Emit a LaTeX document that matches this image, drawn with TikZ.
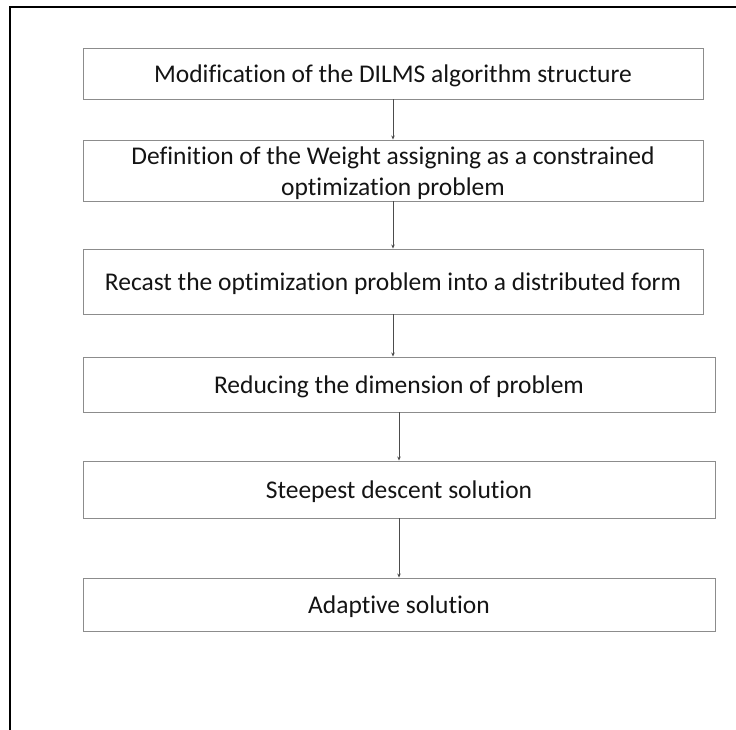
\documentclass[tikz,border=0pt]{standalone}
\usepackage{fontspec}
\setmainfont{Carlito}[Ligatures=NoCommon]
\usetikzlibrary{arrows.meta}
\definecolor{boxgray}{gray}{0.55}
\definecolor{txtgray}{gray}{0.08}
\definecolor{arrgray}{gray}{0.3}
\begin{document}
\begin{tikzpicture}[x=1pt,y=-1pt,
  flowbox/.style={draw=boxgray, line width=0.9pt, rectangle, inner sep=0pt},
  flowtext/.style={anchor=base, inner sep=0pt, text=txtgray,
    font=\fontsize{25.5}{31}\selectfont, align=center},
  flowarrow/.style={draw=arrgray, line width=0.7pt, -{Stealth[length=4pt,width=3.5pt]}}]
\useasboundingbox (0,0) rectangle (736,730);
\draw[line width=2pt, black] (10,730) -- (10,7) -- (736,7);
\node[flowbox, minimum width=620pt, minimum height=51pt] (b1) at (393,73.5) {};
\node[flowbox, minimum width=620pt, minimum height=61pt] (b2) at (393,170.5) {};
\node[flowbox, minimum width=620pt, minimum height=65pt] (b3) at (393,281.5) {};
\node[flowbox, minimum width=632pt, minimum height=55pt] (b4) at (399,384.5) {};
\node[flowbox, minimum width=632pt, minimum height=57pt] (b5) at (399,489.5) {};
\node[flowbox, minimum width=632pt, minimum height=53pt] (b6) at (399,604.5) {};
\node[flowtext] (t1) at (393,83) {Modification of the DILMS algorithm structure};
\node[flowtext] (t2a) at (393,164.5) {Definition of the Weight assigning as a constrained};
\node[flowtext] (t2b) at (393,195.5) {optimization problem};
\node[flowtext] (t3) at (393,290.5) {Recast the optimization problem into a distributed form};
\node[flowtext] (t4) at (399,393.5) {Reducing the dimension of problem};
\node[flowtext] (t5) at (399,498.5) {Steepest descent solution};
\node[flowtext] (t6) at (399,613.5) {Adaptive solution};
\draw[flowarrow] (b1.south) -- (b2.north);
\draw[flowarrow] (b2.south) -- (b3.north);
\draw[flowarrow] (b3.south) -- (b3.south |- b4.north);
\draw[flowarrow] (b4.south) -- (b5.north);
\draw[flowarrow] (b5.south) -- (b6.north);
\end{tikzpicture}
\end{document}
